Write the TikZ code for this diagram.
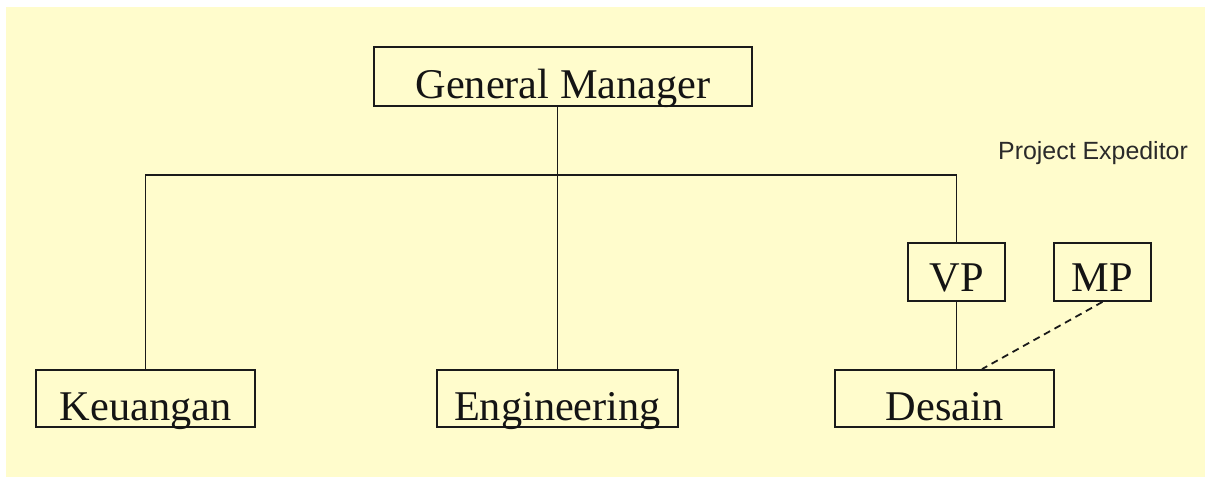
\documentclass[tikz,border=0pt]{standalone}
\usepackage{fontspec}
\setmainfont{Liberation Serif}
\newfontfamily\labelsans{Liberation Sans}
\definecolor{bgyellow}{HTML}{FFFCCC}
\definecolor{inkline}{HTML}{1A1A1A}
\definecolor{inktext}{HTML}{141414}
\definecolor{notetext}{HTML}{2A2A2A}
\tikzset{
  orgbox/.style={draw=inkline, line width=1.8bp, inner sep=0pt, text=inktext,
    font=\fontsize{42.5}{44}\selectfont, text depth=7bp, text height=50bp},
  smallbox/.style={orgbox, text depth=9bp, text height=49bp},
  link/.style={draw=inkline, line width=1.8bp},
  dotlink/.style={link, dash pattern=on 7bp off 5bp}
}
\begin{document}
\begin{tikzpicture}[x=1bp, y=-1bp]
  \useasboundingbox (0,0) rectangle (1205,477);
  \fill[bgyellow] (6,7) rectangle (1205,477);

  % boxes
  \node[orgbox, minimum width=378bp, text height=52bp] (gm) at (563,76.5) {General Manager};
  \node[orgbox, minimum width=219bp] (keu) at (145.5,398.5) {Keuangan};
  \node[orgbox, minimum width=241bp] (eng) at (557.5,398.5) {Engineering};
  \node[orgbox, minimum width=219bp] (des) at (944.5,398.5) {Desain};
  \node[smallbox, minimum width=97bp] (vp) at (956.5,272) {VP};
  \node[smallbox, minimum width=97bp] (mp) at (1102.5,272) {MP};

  \node[anchor=base west, inner sep=0pt, text=notetext,
        font=\labelsans\fontsize{25}{27}\selectfont] (pe) at (998,160) {Project Expeditor};

  % connectors
  \coordinate (bus) at (557,175);
  \draw[link] (eng.north |- gm.south) -- (eng.north);
  \draw[link] (keu.north) |- (bus) -| (vp.north);
  \draw[link] (vp.south) -- (vp.south |- des.north);
  \draw[dotlink] (mp.south) -- ([xshift=37.5bp]des.north);
\end{tikzpicture}
\end{document}
